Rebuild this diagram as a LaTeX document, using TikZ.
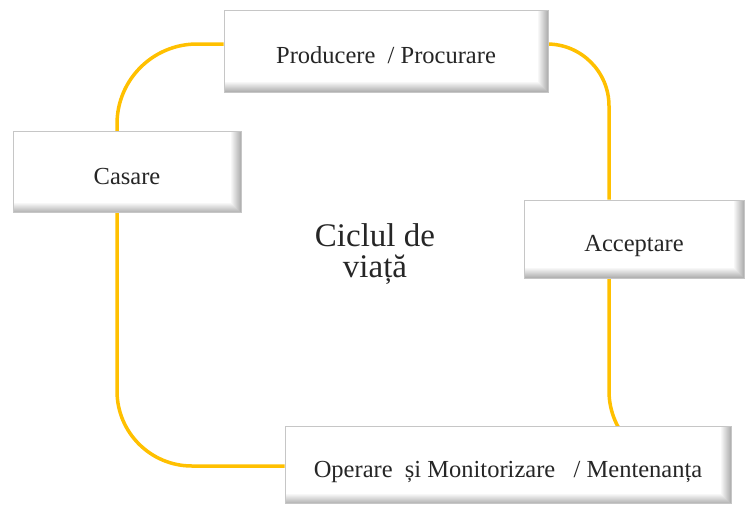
\documentclass[tikz,border=0pt]{standalone}
\usepackage{fontspec}
\setmainfont{Liberation Serif}
\usepackage{xcolor}
\usetikzlibrary{positioning, calc, backgrounds}
\definecolor{loopgold}{HTML}{FFC000}
\tikzset{
    stage/.style={
        rectangle,
        draw=gray!45,
        line width=1pt,
        fill=white,
        text=black!85,
        text height=24pt,
        text depth=0pt,
        font=\fontsize{24.5}{28}\selectfont,
        path picture={
            \foreach \k in {1,...,10}{
                \fill[gray!\the\numexpr\k*6\relax]
                    ([xshift=-11pt+\k pt]path picture bounding box.north east) rectangle (path picture bounding box.south east);
                \fill[gray!\the\numexpr\k*6\relax]
                    ([yshift=11pt-\k pt]path picture bounding box.south west) rectangle (path picture bounding box.south east);
            }
        },
    },
    cycleline/.style={
        draw=loopgold,
        line width=3.5pt,
    },
}
\begin{document}
\begin{tikzpicture}[x=1pt, y=-1pt]
      \useasboundingbox (0,0) rectangle (746,507);
      \coordinate (lt) at (117,44);
      \coordinate (rb) at (609,466);

      \node [stage, minimum width=324pt, minimum height=82pt] (Prod) at (386,51) {Producere~~/ Procurare};
      \node [stage, minimum width=228pt, minimum height=81pt] (Casare) at (127,172) {Casare};
      \node [stage, minimum width=220pt, minimum height=78pt] (Accept) at (634,239) {Acceptare};
      \node [stage, minimum width=446pt, minimum height=77pt] (Oper) at (508,465) {Operare~~și Monitorizare~~~/ Mentenanța};
      \node [align=center, font=\fontsize{33}{31}\selectfont, text=black!85] (Ciclu) at (375,254) {Ciclul de\\viață};

      \begin{scope}[on background layer]
      \draw[cycleline, rounded corners=80pt] (Casare.north -| lt) |- (Prod.west |- lt);
      \draw[cycleline, rounded corners=62pt] (Prod.east |- lt) -| (Accept.north -| rb);
      \draw[cycleline, rounded corners=75pt] (Accept.south -| rb) |- (Oper.east |- rb);
      \draw[cycleline, rounded corners=75pt] (Oper.west |- rb) -| (Casare.south -| lt);
      \end{scope}
\end{tikzpicture}
\end{document}
